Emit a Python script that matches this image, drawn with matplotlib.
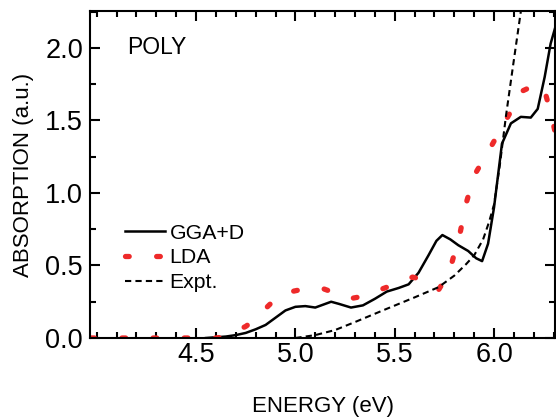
import matplotlib.pyplot as plt
from matplotlib.ticker import MultipleLocator

plt.rcParams['font.family'] = ['Liberation Sans', 'DejaVu Sans']

# --- Data ---

gga_e = [4.55, 4.60, 4.65, 4.70, 4.75, 4.80, 4.85, 4.90, 4.95, 5.00, 5.05, 5.10,
         5.15, 5.18, 5.22, 5.28, 5.34, 5.40, 5.46, 5.52, 5.57, 5.62, 5.67, 5.71,
         5.74, 5.78, 5.82, 5.87, 5.91, 5.94, 5.97, 6.00, 6.04, 6.085, 6.135,
         6.185, 6.22, 6.255, 6.285, 6.31]
gga_a = [0.0, 0.005, 0.01, 0.02, 0.035, 0.06, 0.09, 0.14, 0.19, 0.215, 0.22, 0.21,
         0.235, 0.25, 0.235, 0.21, 0.225, 0.27, 0.32, 0.345, 0.37, 0.45, 0.57, 0.67,
         0.71, 0.68, 0.64, 0.60, 0.55, 0.53, 0.65, 0.90, 1.34, 1.48, 1.525,
         1.52, 1.58, 1.80, 2.03, 2.15]

lda_e = [3.97, 4.60, 4.65, 4.69, 4.75, 4.80, 4.84, 4.90, 4.98, 5.05, 5.12, 5.20,
         5.27, 5.35, 5.44, 5.52, 5.59, 5.65, 5.72, 5.76, 5.79, 5.83, 5.86, 5.90,
         5.985, 6.065, 6.145, 6.20, 6.25, 6.29, 6.32]
lda_a = [0.0, 0.0, 0.01, 0.04, 0.08, 0.13, 0.19, 0.27, 0.32, 0.34, 0.35, 0.31,
         0.27, 0.29, 0.34, 0.38, 0.42, 0.40, 0.33, 0.42, 0.53, 0.73, 0.93, 1.12,
         1.32, 1.515, 1.705, 1.74, 1.73, 1.53, 1.34]

expt_e = [5.00, 5.10, 5.20, 5.30, 5.44, 5.60, 5.72, 5.80, 5.86, 5.90, 5.945,
          5.975, 6.00, 6.03, 6.06, 6.095, 6.14]
expt_a = [0.0, 0.02, 0.055, 0.11, 0.19, 0.28, 0.35, 0.43, 0.51, 0.57, 0.68,
          0.80, 0.92, 1.20, 1.53, 1.87, 2.30]

# --- Plot ---

fig = plt.figure(figsize=(5.56, 4.18), dpi=100)
ax = fig.add_axes([90 / 556, 80 / 418, 465 / 556, 327 / 418])

ax.plot(gga_e, gga_a, color='black', lw=1.8, label='GGA+D')
ax.plot(lda_e, lda_a, color='#ee2a2a', lw=3.8, dashes=(0.7, 5.2),
        dash_capstyle='round', label='LDA')
ax.plot(expt_e, expt_a, color='black', lw=1.5, dashes=(3, 2), label='Expt.')

ax.set_xlim(3.966, 6.307)
ax.set_ylim(0, 2.255)
ax.xaxis.set_major_locator(MultipleLocator(0.5))
ax.xaxis.set_minor_locator(MultipleLocator(0.1))
ax.yaxis.set_major_locator(MultipleLocator(0.5))
ax.yaxis.set_minor_locator(MultipleLocator(0.25))
ax.set_xticks([4.5, 5.0, 5.5, 6.0])

for s in ax.spines.values():
    s.set_linewidth(1.5)
ax.tick_params(which='both', direction='in', top=True, right=True, width=1.5,
               labelsize=19.5)
ax.tick_params(which='major', length=7)
ax.tick_params(which='minor', length=4.5)
ax.tick_params(axis='x', pad=3)
ax.tick_params(axis='y', pad=5)

ax.set_xlabel('ENERGY (eV)', fontsize=16, labelpad=20)
ax.set_ylabel('ABSORPTION (a.u.)', fontsize=16, labelpad=8)

ax.text(0.08, 0.887, 'POLY', transform=ax.transAxes, fontsize=16.5,
        va='center', ha='left')

ax.legend(loc='upper left', bbox_to_anchor=(0.075, 0.35), frameon=False,
          fontsize=15.3, handlelength=1.9, handletextpad=0.2, labelspacing=0.27,
          borderaxespad=0, borderpad=0)

fig.savefig('out.png', dpi=100)
